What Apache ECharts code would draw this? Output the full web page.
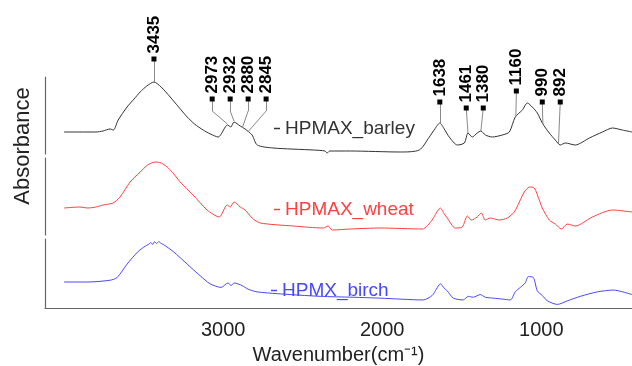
<!DOCTYPE html>
<html>
<head>
<meta charset="utf-8">
<script src="https://cdn.jsdelivr.net/npm/echarts@6/dist/echarts.min.js"></script>
<style>
  html, body { margin: 0; padding: 0; background: #fff; }
  #chart { width: 632px; height: 366px; }
</style>
</head>
<body>
<div id="chart"></div>
<script>
// wavenumber (cm-1) and absorbance (arb. units, offset per panel)
const barleyWn = [4000, 3900, 3800, 3755, 3711, 3690, 3660, 3604, 3560, 3522, 3480, 3435, 3390, 3333, 3280, 3226, 3180, 3126, 3080, 3031, 2973, 2952, 2932, 2893, 2862, 2818, 2786, 2686, 2434, 2360, 2346, 2330, 2201, 1887, 1767, 1704, 1670, 1638, 1610, 1579, 1528, 1484, 1461, 1434, 1403, 1380, 1352, 1308, 1245, 1201, 1164, 1119, 1088, 1057, 1025, 994, 950, 912, 881, 849, 786, 698, 616, 553, 491, 430];
const barleyAbs = [0.22, 0.22, 0.22, 0.23, 0.25, 0.24, 0.34, 0.47, 0.55, 0.62, 0.68, 0.72, 0.67, 0.57, 0.47, 0.37, 0.30, 0.24, 0.20, 0.17, 0.29, 0.27, 0.32, 0.28, 0.25, 0.19, 0.09, 0.06, 0.04, 0.03, 0.01, 0.03, 0.03, 0.02, 0.04, 0.17, 0.25, 0.31, 0.25, 0.17, 0.09, 0.11, 0.21, 0.17, 0.21, 0.23, 0.19, 0.17, 0.19, 0.22, 0.37, 0.44, 0.51, 0.47, 0.41, 0.31, 0.21, 0.14, 0.09, 0.11, 0.09, 0.16, 0.22, 0.26, 0.24, 0.22];

const wheatWn = [4000, 3900, 3850, 3800, 3755, 3692, 3648, 3585, 3522, 3475, 3428, 3390, 3352, 3310, 3270, 3189, 3101, 3025, 2975, 2956, 2931, 2893, 2862, 2818, 2767, 2560, 2371, 2340, 2314, 2201, 2013, 1748, 1686, 1660, 1635, 1610, 1591, 1541, 1497, 1465, 1440, 1403, 1377, 1352, 1321, 1264, 1214, 1170, 1138, 1107, 1075, 1044, 1013, 994, 950, 912, 874, 836, 786, 679, 553, 430];
const wheatAbs = [0.27, 0.28, 0.27, 0.28, 0.30, 0.32, 0.38, 0.53, 0.63, 0.70, 0.73, 0.72, 0.68, 0.61, 0.53, 0.40, 0.25, 0.18, 0.30, 0.28, 0.33, 0.28, 0.25, 0.17, 0.12, 0.09, 0.07, 0.09, 0.05, 0.06, 0.07, 0.06, 0.15, 0.22, 0.27, 0.21, 0.17, 0.07, 0.08, 0.19, 0.15, 0.18, 0.22, 0.15, 0.17, 0.15, 0.17, 0.23, 0.33, 0.43, 0.48, 0.47, 0.35, 0.27, 0.15, 0.11, 0.06, 0.11, 0.09, 0.18, 0.25, 0.23];

const birchWn = [4000, 3850, 3711, 3667, 3604, 3535, 3490, 3470, 3455, 3445, 3430, 3420, 3405, 3390, 3377, 3314, 3226, 3145, 3082, 3013, 2969, 2950, 2931, 2881, 2843, 2786, 2660, 2390, 2182, 2013, 1742, 1686, 1660, 1635, 1610, 1591, 1553, 1491, 1459, 1428, 1384, 1352, 1302, 1245, 1195, 1164, 1132, 1101, 1082, 1050, 1025, 994, 962, 899, 836, 755, 648, 547, 430];
const birchAbs = [0.29, 0.29, 0.31, 0.34, 0.49, 0.63, 0.69, 0.71, 0.73, 0.71, 0.74, 0.72, 0.74, 0.72, 0.71, 0.63, 0.49, 0.36, 0.27, 0.23, 0.28, 0.25, 0.28, 0.25, 0.21, 0.18, 0.16, 0.13, 0.12, 0.11, 0.09, 0.14, 0.21, 0.27, 0.22, 0.19, 0.11, 0.09, 0.13, 0.12, 0.15, 0.12, 0.11, 0.10, 0.09, 0.18, 0.23, 0.28, 0.35, 0.34, 0.19, 0.14, 0.08, 0.04, 0.08, 0.13, 0.18, 0.20, 0.15];

const sampleNames = ['HPMAX_barley', 'HPMAX_wheat', 'HPMX_birch'];
const sampleColors = ['#333333', '#ff4040', '#4848ff'];

// peak assignments on the barley spectrum (same absorbance units as the barley panel)
const peakWn = [3435, 2973, 2932, 2880, 2845, 1638, 1461, 1380, 1160, 990, 892];
const peakAbs = [0.72, 0.30, 0.33, 0.26, 0.22, 0.31, 0.21, 0.23, 0.37, 0.30, 0.11];
const tagWn = [3435, 3069, 2956, 2843, 2730, 1638, 1472, 1365, 1157, 994, 881];
const tagAbs = [0.95, 0.55, 0.55, 0.55, 0.55, 0.52, 0.46, 0.46, 0.63, 0.52, 0.52];
const bendAbs = [null, 0.43, 0.43, 0.43, 0.43, null, null, null, null, null, null];

const xTicks = [1000, 2000, 3000];

const FONT = 'Liberation Sans, Arial, sans-serif';
const AXIS_COLOR = '#666';

const chart = echarts.init(document.getElementById('chart'));

const zip = (xs, ys) => xs.map((x, i) => [x, ys[i]]);
const spectra = [zip(barleyWn, barleyAbs), zip(wheatWn, wheatAbs), zip(birchWn, birchAbs)];

const connectors = [];
peakWn.forEach((w, i) => {
  if (bendAbs[i] != null) {
    connectors.push([{ coord: [tagWn[i], tagAbs[i]] }, { coord: [tagWn[i], bendAbs[i]] }]);
    connectors.push([{ coord: [tagWn[i], bendAbs[i]] }, { coord: [w, peakAbs[i]] }]);
  } else {
    connectors.push([{ coord: [tagWn[i], tagAbs[i]] }, { coord: [w, peakAbs[i]] }]);
  }
});

// three stacked panels + one invisible grid over the top panel for the peak tags
const grids = [
  { left: 45, right: 0, top: 77, height: 77 },
  { left: 45, right: 0, top: 158, height: 77 },
  { left: 45, right: 0, top: 239, height: 77 },
  { left: 45, right: 0, top: 0, height: 154 },
];

const xAxes = grids.map((g, i) => ({
  type: 'value',
  gridIndex: i,
  min: 430,
  max: 4120,
  inverse: true,
  show: i === 2,
  axisLine: { show: true, onZero: false, lineStyle: { color: AXIS_COLOR, width: 1.2 } },
  axisTick: { show: false },
  splitLine: { show: false },
  axisLabel: {
    show: i === 2,
    customValues: xTicks,
    formatter: (v) => String(v),
    color: '#222',
    fontSize: 20,
    fontFamily: FONT,
    margin: 12,
  },
  name: i === 2 ? 'Wavenumber(cm\u207B\u00B9)' : '',
  nameLocation: 'middle',
  nameGap: 37,
  nameTextStyle: { color: '#222', fontSize: 20, fontFamily: FONT },
}));

const yAxes = grids.map((g, i) => ({
  type: 'value',
  gridIndex: i,
  min: 0,
  max: i === 3 ? 1.54 : 0.77,
  show: i !== 3,
  axisLine: { show: true, lineStyle: { color: AXIS_COLOR, width: 1.2 } },
  axisTick: { show: false },
  axisLabel: { show: false },
  splitLine: { show: false },
}));

const series = spectra.map((data, i) => ({
  name: sampleNames[i],
  type: 'line',
  xAxisIndex: i,
  yAxisIndex: i,
  data: data,
  showSymbol: false,
  smooth: 0.25,
  clip: false,
  lineStyle: { color: sampleColors[i], width: 1 },
  itemStyle: { color: sampleColors[i] },
}));

series.push({
  name: 'peaks',
  type: 'line',
  xAxisIndex: 3,
  yAxisIndex: 3,
  data: [],
  clip: false,
  markLine: {
    silent: true,
    symbol: 'none',
    animation: false,
    label: { show: false },
    lineStyle: { color: '#8a8a8a', width: 1, type: 'solid' },
    data: connectors,
  },
  markPoint: {
    silent: true,
    animation: false,
    symbol: 'rect',
    symbolSize: 5,
    itemStyle: { color: '#000' },
    label: {
      show: true,
      position: 'top',
      distance: 3,
      rotate: 90,
      align: 'left',
      verticalAlign: 'middle',
      color: '#000',
      fontSize: 17,
      fontWeight: 'bold',
      fontFamily: FONT,
      formatter: (p) => p.name,
    },
    data: peakWn.map((w, k) => ({ name: String(w), coord: [tagWn[k], tagAbs[k]] })),
  },
});

const legendPos = [
  { left: 269, top: 114 },
  { left: 269, top: 195 },
  { left: 266, top: 276 },
];

const legends = sampleNames.map((n, i) => ({
  data: [n],
  left: legendPos[i].left,
  top: legendPos[i].top,
  orient: 'horizontal',
  icon: 'rect',
  itemWidth: 6,
  itemHeight: 1.5,
  selectedMode: false,
  textStyle: { color: sampleColors[i], fontSize: 19, fontFamily: FONT },
}));

chart.setOption({
  animation: false,
  backgroundColor: '#fff',
  grid: grids,
  xAxis: xAxes,
  yAxis: yAxes,
  legend: legends,
  series: series,
  graphic: [
    {
      type: 'text',
      x: 23,
      y: 146,
      rotation: Math.PI / 2,
      style: {
        text: 'Absorbance',
        fill: '#222',
        fontSize: 22,
        fontFamily: FONT,
        align: 'center',
        verticalAlign: 'middle',
      },
    },
  ],
});
</script>
</body>
</html>
